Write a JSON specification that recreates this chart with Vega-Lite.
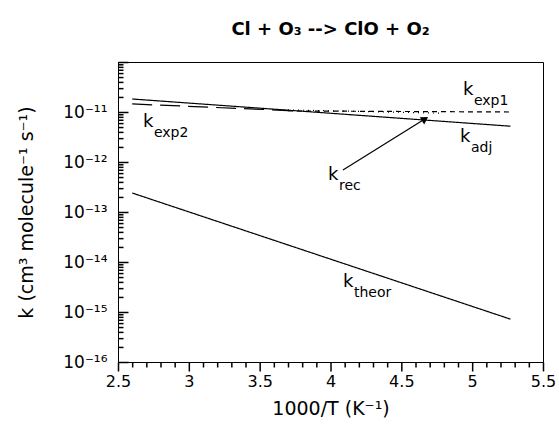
{
  "$schema": "https://vega.github.io/schema/vega-lite/v6.json",
  "width": 425,
  "height": 300,
  "autosize": "none",
  "padding": {"left": 118, "top": 62, "right": 16, "bottom": 62},
  "background": "white",
  "config": {
    "font": "DejaVu Sans",
    "view": {"stroke": "black", "strokeWidth": 1},
    "axis": {
      "domainColor": "black",
      "tickColor": "black",
      "labelColor": "black",
      "titleColor": "black",
      "tickWidth": 1.5,
      "tickRound": false,
      "grid": false,
      "labelFont": "DejaVu Sans",
      "titleFont": "DejaVu Sans",
      "titleFontWeight": "normal"
    }
  },
  "title": {
    "text": "Cl + O₃ --> ClO + O₂",
    "font": "DejaVu Sans",
    "fontSize": 18,
    "fontWeight": "bold",
    "color": "black",
    "offset": 14,
    "anchor": "middle"
  },
  "datasets": {
    "curves": [
      {"series": "adj", "x": 2.6, "k": 1.82e-11},
      {"series": "adj", "x": 5.27, "k": 5.2e-12},
      {"series": "theor", "x": 2.6, "k": 2.4e-13},
      {"series": "theor", "x": 5.27, "k": 7.2e-16},
      {"series": "exp1", "x": 3.7, "k": 1.05e-11},
      {"series": "exp1", "x": 5.27, "k": 1.0e-11},
      {"series": "exp2", "x": 2.6, "k": 1.45e-11},
      {"series": "exp2", "x": 3.7, "k": 1.07e-11},
      {"series": "rec", "x": 3.7, "k": 1.1e-11},
      {"series": "rec", "x": 4.77, "k": 9.5e-12}
    ],
    "arrow": [
      {"x": 4.088, "k": 6.9e-13},
      {"x": 4.66, "k": 7.05e-12}
    ],
    "arrowhead": [
      {"x": 4.66, "k": 7.05e-12}
    ],
    "labels": [
      {"name": "k", "sub": "exp1", "x": 4.935, "k": 2.19e-11},
      {"name": "k", "sub": "exp2", "x": 2.676, "k": 5.0e-12},
      {"name": "k", "sub": "adj", "x": 4.914, "k": 2.51e-12},
      {"name": "k", "sub": "rec", "x": 3.982, "k": 4.37e-13},
      {"name": "k", "sub": "theor", "x": 4.088, "k": 3.16e-15}
    ]
  },
  "layer": [
    {
      "data": {"name": "curves"},
      "mark": {"type": "line", "color": "black", "strokeWidth": 1.2},
      "encoding": {
        "x": {
          "field": "x", "type": "quantitative",
          "scale": {"domain": [2.5, 5.5], "nice": false, "zero": false},
          "axis": {
            "orient": "bottom",
            "values": [2.5,2.6,2.7,2.8,2.9,3,3.1,3.2,3.3,3.4,3.5,3.6,3.7,3.8,3.9,4,4.1,4.2,4.3,4.4,4.5,4.6,4.7,4.8,4.9,5,5.1,5.2,5.3,5.4,5.5],
            "tickCount": 100,
            "labelExpr": "abs(datum.value*2 - round(datum.value*2)) < 0.001 ? format(datum.value, '~g') : ''",
            "tickSize": {"condition": {"test": "abs(datum.value*2 - round(datum.value*2)) < 0.001", "value": 9}, "value": 5},
            "labelFontSize": 16,
            "labelPadding": 2,
            "labelFlush": false,
            "labelOverlap": false,
            "title": "1000/T (K⁻¹)",
            "titleFontSize": 19,
            "titlePadding": 10
          }
        },
        "y": {
          "field": "k", "type": "quantitative",
          "scale": {"type": "log", "domain": [1e-16, 1e-10], "nice": false},
          "axis": {
            "orient": "left",
            "values": [1e-16,2e-16,3e-16,4e-16,5e-16,6e-16,7e-16,8e-16,9e-16,1e-15,2e-15,3e-15,4e-15,5e-15,6e-15,7e-15,8e-15,9e-15,1e-14,2e-14,3e-14,4e-14,5e-14,6e-14,7e-14,8e-14,9e-14,1e-13,2e-13,3e-13,4e-13,5e-13,6e-13,7e-13,8e-13,9e-13,1e-12,2e-12,3e-12,4e-12,5e-12,6e-12,7e-12,8e-12,9e-12,1e-11,2e-11,3e-11,4e-11,5e-11,6e-11,7e-11,8e-11,9e-11,1e-10],
            "tickCount": 100,
            "labelExpr": "(abs(log(datum.value)/LN10 - round(log(datum.value)/LN10)) < 0.001 && round(log(datum.value)/LN10) <= -11) ? '10⁻¹' + substring('⁰¹²³⁴⁵⁶⁷⁸⁹', -round(log(datum.value)/LN10) - 10, -round(log(datum.value)/LN10) - 9) : ''",
            "tickSize": {"condition": {"test": "abs(log(datum.value)/LN10 - round(log(datum.value)/LN10)) < 0.001", "value": -10}, "value": -5},
            "labelFontSize": 17,
            "labelPadding": 21,
            "labelFlush": false,
            "labelOverlap": false,
            "title": "k (cm³ molecule⁻¹ s⁻¹)",
            "titleFontSize": 19,
            "titlePadding": 26
          }
        },
        "detail": {"field": "series"},
        "strokeDash": {
          "field": "series", "type": "nominal",
          "scale": {"domain": ["adj", "theor", "exp1", "exp2", "rec"], "range": [[1, 0], [1, 0], [5, 4], [20, 8], [1, 4]]},
          "legend": null
        }
      }
    },
    {
      "data": {"name": "arrow"},
      "mark": {"type": "line", "color": "black", "strokeWidth": 1.2},
      "encoding": {
        "x": {"field": "x", "type": "quantitative"},
        "y": {"field": "k", "type": "quantitative"}
      }
    },
    {
      "data": {"name": "arrowhead"},
      "mark": {"type": "point", "shape": "triangle", "filled": true, "color": "black", "size": 70, "angle": 58, "opacity": 1},
      "encoding": {
        "x": {"field": "x", "type": "quantitative"},
        "y": {"field": "k", "type": "quantitative"}
      }
    },
    {
      "data": {"name": "labels"},
      "mark": {"type": "text", "align": "left", "baseline": "alphabetic", "fontSize": 18, "font": "DejaVu Sans", "color": "black"},
      "encoding": {
        "x": {"field": "x", "type": "quantitative"},
        "y": {"field": "k", "type": "quantitative"},
        "text": {"field": "name"}
      }
    },
    {
      "data": {"name": "labels"},
      "mark": {"type": "text", "align": "left", "baseline": "alphabetic", "fontSize": 14, "font": "DejaVu Sans", "color": "black", "dx": 11, "dy": 10},
      "encoding": {
        "x": {"field": "x", "type": "quantitative"},
        "y": {"field": "k", "type": "quantitative"},
        "text": {"field": "sub"}
      }
    }
  ]
}
